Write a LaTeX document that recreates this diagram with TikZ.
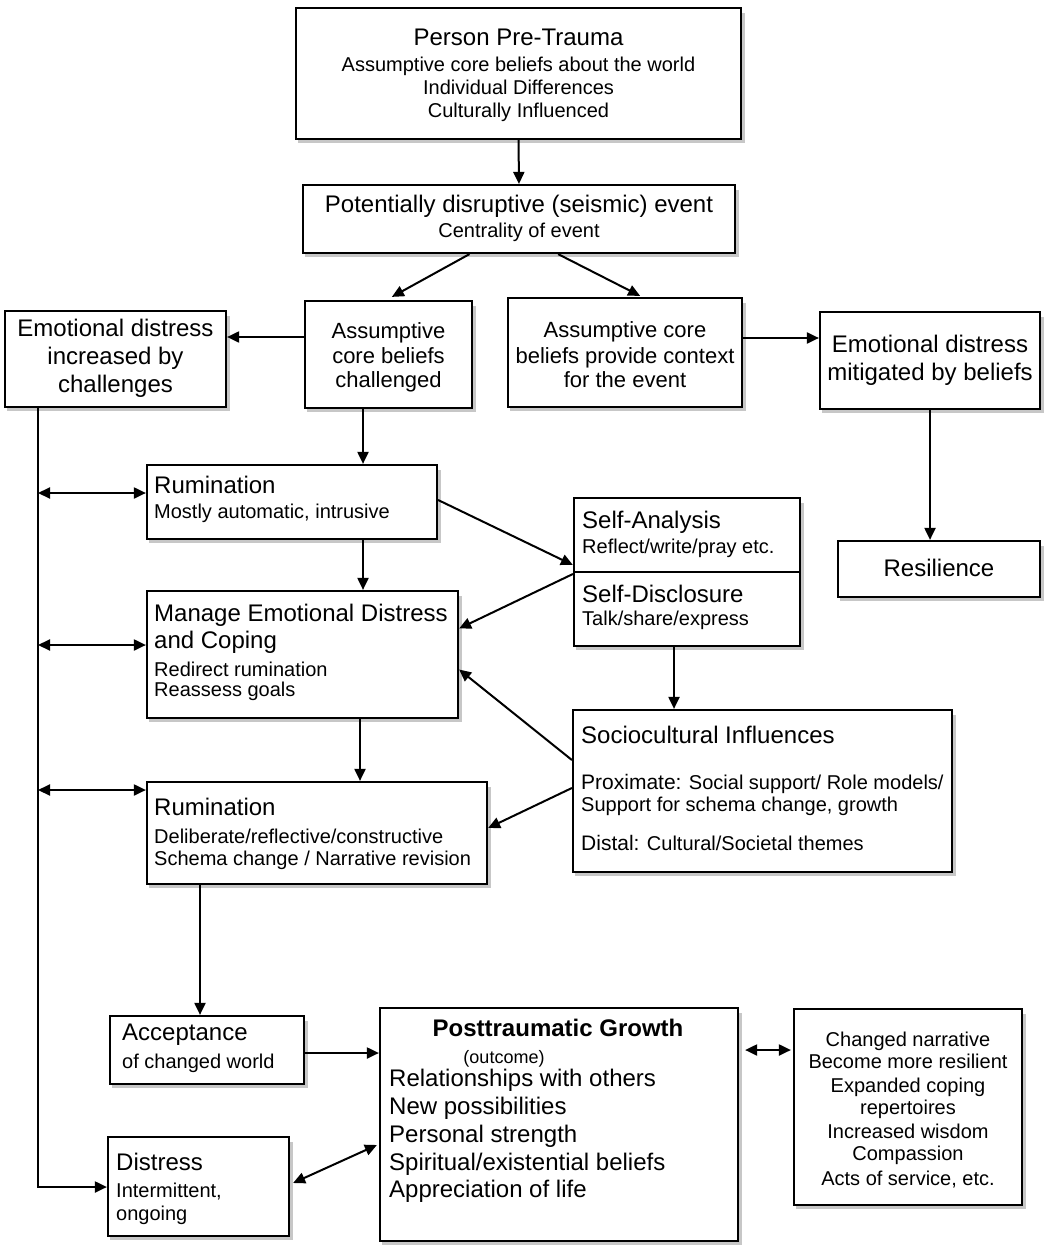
\documentclass[tikz,border=0pt]{standalone}
\usepackage{fontspec}
\setmainfont{Liberation Sans}
\usetikzlibrary{arrows.meta,calc}
\newcommand\mybox[5]{%
  \pgfmathsetmacro\bw{#4-#2}\pgfmathsetmacro\bh{#5-#3}%
  \pgfmathsetmacro\bcx{(#2+#4)/2}\pgfmathsetmacro\bcy{(#3+#5)/2}%
  \fill[shadowfill] (#2+2,#3+5) rectangle (#4+4,#5+4);%
  \node[box, minimum width=\bw pt, minimum height=\bh pt] (#1) at (\bcx,\bcy) {};}
\newcommand\mytext[5][]{\node[#1] (#2) at (#3,#4) {#5};}
\begin{document}
\begin{tikzpicture}[x=1pt,y=-1pt,
  shadowfill/.style={fill=black!22},
  box/.style={draw, line width=2.2pt, fill=white, inner sep=0pt},
  big/.style={font=\fontsize{24}{28}\selectfont, inner sep=0pt},
  mid/.style={font=\fontsize{22}{26}\selectfont, inner sep=0pt},
  sml/.style={font=\fontsize{20}{23}\selectfont, inner sep=0pt},
  c/.style={anchor=mid, yshift=-5.5pt},
  l/.style={anchor=mid west, yshift=-5.5pt},
  arr/.style={line width=2pt, -{Triangle[length=12pt,width=11pt]}},
  darr/.style={line width=2pt, {Triangle[length=12pt,width=11pt]}-{Triangle[length=12pt,width=11pt]}},
]
\useasboundingbox (0,0) rectangle (1058,1257);
% boxes
\mybox{pre}{296}{8}{741}{139}
\mybox{event}{303}{185}{735}{253}
\mybox{edinc}{5}{311}{226}{407}
\mybox{chal}{305}{301}{472}{408}
\mybox{ctx}{508}{298}{742}{407}
\mybox{edmit}{820}{312}{1040}{409}
\mybox{res}{838}{541}{1040}{597}
\mybox{rum1}{147}{465}{437}{539}
\mybox{self}{574}{498}{800}{646}
\mybox{manage}{147}{591}{458}{718}
\mybox{socio}{573}{710}{952}{872}
\mybox{rum2}{147}{782}{487}{884}
\mybox{acc}{110}{1016}{304}{1084}
\mybox{dis}{108}{1137}{289}{1236}
\mybox{ptg}{380}{1008}{738}{1241}
\mybox{outc}{794}{1009}{1022}{1205}
\draw[line width=2.2pt] (self.west |- 0,572) coordinate (sdl) -- (self.east |- 0,572) coordinate (sdr);
% texts
\mytext[big,c]{pre1}{518.5}{37}{Person Pre-Trauma}
\mytext[sml,c]{pre2}{518.5}{63}{Assumptive core beliefs about the world}
\mytext[sml,c]{pre3}{518.5}{86}{Individual Differences}
\mytext[sml,c]{pre4}{518.5}{109}{Culturally Influenced}
\mytext[big,c]{ev1}{519}{204}{Potentially disruptive (seismic) event}
\mytext[sml,c]{ev2}{519}{229}{Centrality of event}
\mytext[big,c]{ed1}{115.5}{328}{Emotional distress}
\mytext[big,c]{ed2}{115.5}{356}{increased by}
\mytext[big,c]{ed3}{115.5}{384}{challenges}
\mytext[mid,c]{ch1}{388.5}{330}{Assumptive}
\mytext[mid,c]{ch2}{388.5}{355}{core beliefs}
\mytext[mid,c]{ch3}{388.5}{379}{challenged}
\mytext[mid,c]{cx1}{625}{329}{Assumptive core}
\mytext[mid,c]{cx2}{625}{355}{beliefs provide context}
\mytext[mid,c]{cx3}{625}{379}{for the event}
\mytext[big,c]{em1}{930}{344}{Emotional distress}
\mytext[big,c]{em2}{930}{372}{mitigated by beliefs}
\mytext[big,c]{re1}{939}{568}{Resilience}
\mytext[big,l]{r11}{154}{485}{Rumination}
\mytext[sml,l]{r12}{154}{510}{Mostly automatic, intrusive}
\mytext[big,l]{sa1}{582}{520}{Self-Analysis}
\mytext[sml,l]{sa2}{582}{545}{Reflect/write/pray etc.}
\mytext[big,l]{sd1}{582}{594}{Self-Disclosure}
\mytext[sml,l]{sd2}{582}{617}{Talk/share/express}
\mytext[big,l]{ma1}{154}{613}{Manage Emotional Distress}
\mytext[big,l]{ma2}{154}{640}{and Coping}
\mytext[sml,l]{ma3}{154}{668}{Redirect rumination}
\mytext[sml,l]{ma4}{154}{688}{Reassess goals}
\mytext[big,l]{so1}{581}{735}{Sociocultural Influences}
\mytext[sml,l]{so2}{581}{781}{{\fontsize{21}{25}\selectfont Proximate:} Social support/ Role models/}
\mytext[sml,l]{so3}{581}{803}{Support for schema change, growth}
\mytext[sml,l]{so4}{581}{842}{{\fontsize{21}{25}\selectfont Distal:} Cultural/Societal themes}
\mytext[big,l]{r21}{154}{807}{Rumination}
\mytext[sml,l]{r22}{154}{835}{Deliberate/reflective/constructive}
\mytext[sml,l]{r23}{154}{857}{Schema change / Narrative revision}
\mytext[big,l]{ac1}{122}{1032}{Acceptance}
\mytext[sml,l]{ac2}{122}{1060}{of changed world}
\mytext[big,l]{di1}{116}{1162}{Distress}
\mytext[sml,l]{di2}{116}{1189}{Intermittent,}
\mytext[sml,l]{di3}{116}{1212}{ongoing}
\mytext[big,c,font=\fontsize{24}{28}\selectfont\bfseries]{pg1}{558}{1028}{Posttraumatic Growth}
\mytext[sml,c,font=\fontsize{18}{21}\selectfont]{pg2}{504}{1055}{(outcome)}
\mytext[big,l]{pg3}{389}{1078}{Relationships with others}
\mytext[big,l]{pg4}{389}{1106}{New possibilities}
\mytext[big,l]{pg5}{389}{1134}{Personal strength}
\mytext[big,l]{pg6}{389}{1162}{Spiritual/existential beliefs}
\mytext[big,l]{pg7}{389}{1189}{Appreciation of life}
\mytext[sml,c]{oc1}{908}{1038}{Changed narrative}
\mytext[sml,c]{oc2}{908}{1060}{Become more resilient}
\mytext[sml,c]{oc3}{908}{1084}{Expanded coping}
\mytext[sml,c]{oc4}{908}{1106}{repertoires}
\mytext[sml,c]{oc5}{908}{1130}{Increased wisdom}
\mytext[sml,c]{oc6}{908}{1152}{Compassion}
\mytext[sml,c]{oc7}{908}{1177}{Acts of service, etc.}
% helper coordinates
\coordinate (sp) at (38,1187);
\coordinate (y337) at (0,337);
\coordinate (y338) at (0,338);
\coordinate (y493) at (0,493);
\coordinate (y645) at (0,645);
\coordinate (y790) at (0,790);
\coordinate (x363) at (363,0);
\coordinate (x360) at (360,0);
\coordinate (x674) at (674,0);
\coordinate (x200) at (200,0);
% connectors
\draw[arr] (pre.south) -- (event.north);
\draw[arr] ($(event.south west)!0.386!(event.south east)$) -- ($(chal.north west)!0.52!(chal.north east)+(0,-3)$);
\draw[arr] ($(event.south west)!0.59!(event.south east)$) -- ($(ctx.north west)!0.564!(ctx.north east)+(0,-1)$);
\draw[arr] (chal.west |- y337) -- (edinc.east |- y337);
\draw[arr] (ctx.east |- y338) -- (edmit.west |- y338);
\draw[arr] (edmit.south) -- (edmit.south |- res.north);
\draw[arr] (chal.south -| x363) -- (rum1.north -| x363);
\draw[arr] (rum1.south -| x363) -- (manage.north -| x363);
\draw[arr] (manage.south -| x360) -- (rum2.north -| x360);
\draw[arr] ([yshift=2pt]rum1.east) -- ([yshift=7pt]sdl);
\draw[arr] ([yshift=-2pt]sdl) -- ([yshift=26pt]manage.east);
\draw[arr] ([yshift=31pt]socio.west) -- ([yshift=-15pt]manage.east);
\draw[arr] ([yshift=3pt]socio.west) -- ([yshift=5pt]rum2.east);
\draw[arr] (self.south -| x674) -- (socio.north -| x674);
\draw[arr] (edinc.south -| sp) -- (sp) -- (dis.west |- sp);
\draw[darr] (sp |- y493) -- (rum1.west |- y493);
\draw[darr] (sp |- y645) -- (manage.west |- y645);
\draw[darr] (sp |- y790) -- (rum2.west |- y790);
\draw[arr] (rum2.south -| x200) -- (acc.north -| x200);
\draw[arr] ([yshift=-3pt]acc.east) -- ([yshift=-3pt]ptg.west |- acc.east);
\draw[darr] ([xshift=3pt,yshift=3.5pt]dis.east) -- ([xshift=-2pt,yshift=-20.5pt]ptg.west);
\draw[darr] ([xshift=6pt]ptg.east |- 0,1050) -- ([xshift=-2pt]outc.west |- 0,1050);
\end{tikzpicture}
\end{document}
